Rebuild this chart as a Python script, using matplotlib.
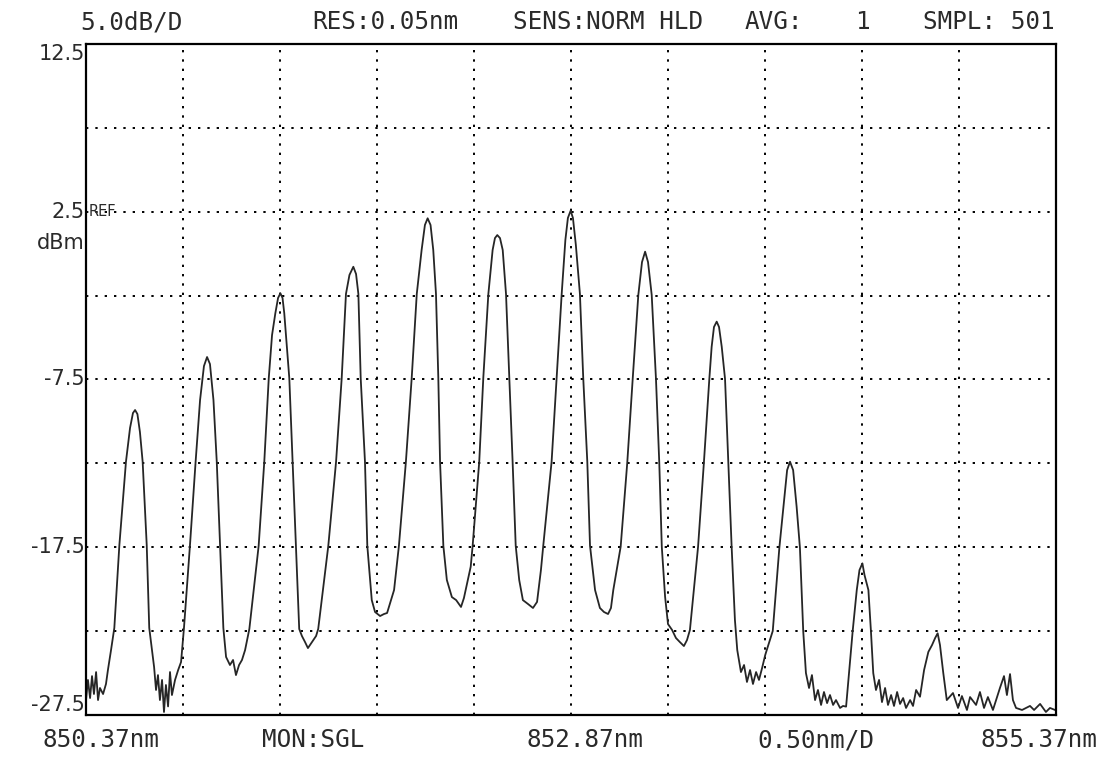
import numpy as np
import matplotlib
matplotlib.use("Agg")
import matplotlib.pyplot as plt

# OSA trace: wavelength (nm) and level (dBm)
wavelength = [
    850.370, 850.380, 850.391, 850.401, 850.411, 850.422, 850.432, 850.442, 850.458, 850.473,
    850.483, 850.499, 850.516, 850.542, 850.576, 850.597, 850.612, 850.623, 850.635, 850.648,
    850.662, 850.683, 850.696, 850.721, 850.731, 850.741, 850.751, 850.762, 850.772, 850.782,
    850.793, 850.803, 850.813, 850.829, 850.845, 850.860, 850.875, 850.906, 850.935, 850.958,
    850.978, 850.994, 851.009, 851.027, 851.044, 851.061, 851.078, 851.092, 851.112, 851.128,
    851.143, 851.159, 851.174, 851.190, 851.212, 851.260, 851.289, 851.312, 851.329, 851.346,
    851.360, 851.372, 851.383, 851.392, 851.418, 851.435, 851.452, 851.469, 851.483, 851.499,
    851.514, 851.535, 851.556, 851.567, 851.619, 851.659, 851.688, 851.710, 851.728, 851.748,
    851.762, 851.774, 851.786, 851.808, 851.820, 851.843, 851.860, 851.886, 851.906, 851.922,
    851.958, 851.983, 852.019, 852.049, 852.075, 852.100, 852.117, 852.131, 852.146, 852.160,
    852.174, 852.186, 852.195, 852.212, 852.230, 852.256, 852.278, 852.303, 852.318, 852.353,
    852.363, 852.397, 852.418, 852.444, 852.466, 852.478, 852.490, 852.504, 852.518, 852.535,
    852.552, 852.569, 852.585, 852.603, 852.622, 852.648, 852.674, 852.695, 852.715, 852.727,
    852.770, 852.796, 852.822, 852.841, 852.854, 852.868, 852.880, 852.895, 852.916, 852.933,
    852.954, 852.968, 852.994, 853.019, 853.040, 853.061, 853.076, 853.088, 853.126, 853.160,
    853.188, 853.217, 853.236, 853.252, 853.267, 853.286, 853.308, 853.325, 853.338, 853.355,
    853.370, 853.391, 853.411, 853.431, 853.452, 853.468, 853.483, 853.525, 853.555, 853.583,
    853.595, 853.607, 853.621, 853.633, 853.647, 853.664, 853.681, 853.698, 853.715, 853.727,
    853.746, 853.762, 853.777, 853.793, 853.808, 853.824, 853.839, 853.855, 853.871, 853.879,
    853.910, 853.944, 853.965, 853.984, 853.999, 854.015, 854.033, 854.050, 854.067, 854.081,
    854.097, 854.112, 854.128, 854.143, 854.159, 854.174, 854.190, 854.205, 854.221, 854.236,
    854.257, 854.272, 854.288, 854.322, 854.343, 854.357, 854.372, 854.383, 854.403, 854.416,
    854.428, 854.442, 854.458, 854.473, 854.489, 854.504, 854.520, 854.535, 854.551, 854.566,
    854.582, 854.597, 854.618, 854.633, 854.649, 854.669, 854.690, 854.712, 854.731, 854.747,
    854.760, 854.772, 854.789, 854.807, 854.839, 854.865, 854.885, 854.911, 854.927, 854.958,
    854.978, 854.999, 855.019, 855.045, 855.061, 855.081, 855.102, 855.117, 855.133, 855.148,
    855.164, 855.195, 855.236, 855.257, 855.288, 855.318, 855.339, 855.365,
]
level = [
    -26.61, -25.41, -26.49, -25.18, -26.25, -24.94, -26.61, -25.89, -26.25, -25.65,
    -24.82, -23.63, -22.31, -17.37, -12.40, -10.39, -9.50, -9.32, -9.56, -10.63,
    -12.40, -17.37, -22.31, -24.64, -26.01, -25.12, -26.61, -25.41, -27.32, -25.71,
    -26.99, -24.94, -26.31, -25.41, -24.82, -24.34, -22.31, -17.37, -12.40, -8.72,
    -6.70, -6.16, -6.58, -8.72, -12.40, -17.37, -22.31, -24.04, -24.52, -24.22,
    -25.12, -24.52, -24.22, -23.63, -22.37, -17.41, -12.40, -7.43, -4.85, -3.55,
    -2.64, -2.36, -2.64, -3.55, -7.43, -12.40, -17.41, -22.37, -22.79, -23.15,
    -23.51, -23.15, -22.79, -22.37, -17.41, -12.40, -7.43, -2.40, -1.27, -0.78,
    -1.21, -2.40, -7.43, -12.40, -17.41, -20.65, -21.36, -21.60, -21.48, -21.42,
    -20.05, -17.41, -12.40, -7.39, -2.40, 0.22, 1.71, 2.11, 1.71, 0.22,
    -2.40, -7.39, -12.40, -17.41, -19.45, -20.47, -20.65, -21.06, -20.53, -18.66,
    -17.41, -12.40, -7.39, -2.40, 0.22, 0.93, 1.11, 0.93, 0.22, -2.40,
    -7.39, -12.40, -17.41, -19.45, -20.65, -20.88, -21.12, -20.76, -18.86, -17.41,
    -12.40, -7.39, -2.40, 0.82, 2.13, 2.56, 2.13, 0.52, -2.40, -7.39,
    -12.40, -17.41, -20.05, -21.12, -21.36, -21.48, -21.12, -20.05, -17.47, -12.46,
    -7.47, -2.46, -0.50, 0.12, -0.50, -2.46, -7.47, -12.46, -17.47, -20.45,
    -22.08, -22.43, -22.91, -23.15, -23.39, -23.03, -22.43, -17.47, -12.46, -7.47,
    -5.55, -4.37, -4.05, -4.37, -5.55, -7.47, -12.46, -17.47, -21.84, -23.63,
    -24.94, -24.52, -25.53, -24.82, -25.65, -24.94, -25.41, -24.70, -23.93, -23.63,
    -22.49, -17.53, -15.08, -12.90, -12.40, -12.90, -15.08, -17.53, -22.49, -25.00,
    -25.89, -25.12, -26.61, -26.01, -26.90, -26.13, -26.79, -26.31, -26.90, -26.61,
    -27.08, -26.96, -27.00, -22.49, -20.05, -18.86, -18.46, -19.16, -20.05, -22.49,
    -25.00, -26.01, -25.41, -26.73, -25.89, -26.90, -26.31, -26.96, -26.13, -26.84,
    -26.49, -27.08, -26.61, -26.96, -26.01, -26.41, -24.82, -23.74, -23.33, -22.91,
    -22.63, -23.33, -25.00, -26.61, -26.19, -27.08, -26.37, -27.20, -26.43, -26.90,
    -26.13, -27.08, -26.43, -27.20, -26.61, -25.89, -25.18, -26.31, -25.06, -26.61,
    -27.08, -27.20, -26.96, -27.20, -26.84, -27.32, -27.08, -27.20,
]

x_start, x_stop, x_div = 850.37, 855.37, 0.50
y_top, y_bottom, y_div = 12.5, -27.5, 5.0
y_labels = [12.5, 2.5, -7.5, -17.5, -27.5]

W, H = 1119, 757
fig = plt.figure(figsize=(W / 100, H / 100), dpi=100)
fig.patch.set_facecolor("white")

ax = fig.add_axes([86 / W, 1 - 715 / H, 970 / W, 671 / H])
ax.plot(wavelength, level, color="#262626", lw=1.3)
ax.set_xlim(x_start, x_stop)
ax.set_ylim(y_bottom, y_top)

ax.set_xticks([x_start + k * x_div for k in range(11)])
ax.set_yticks([y_bottom + k * y_div for k in range(9)])
ax.tick_params(length=0, labelbottom=False, labelleft=False)
ax.grid(True, color="black", lw=1.4, linestyle=(0, (1.2, 3.6)))
for s in ax.spines.values():
    s.set_linewidth(1.6)
    s.set_color("black")

mono = dict(family="DejaVu Sans Mono", fontsize=17.5, color="#2a2a2a")

def ftext(x, y, s, ha="left", va="center", **kw):
    fig.text(x / W, 1 - y / H, s, ha=ha, va=va, **kw)

# header line
ftext(80, 22, "5.0dB/D", **mono)
ftext(312, 22, "RES:0.05nm", **mono)
ftext(513, 22, "SENS:NORM HLD", **mono)
ftext(745, 22, "AVG:", **mono)
ftext(862, 22, "1", ha="center", **mono)
ftext(1055, 22, "SMPL: 501", ha="right", **mono)

# footer line
ftext(42, 740, "850.37nm", **mono)
ftext(262, 740, "MON:SGL", **mono)
ftext(527, 740, "852.87nm", **mono)
ftext(757, 740, "0.50nm/D", **mono)
ftext(1097, 740, "855.37nm", ha="right", **mono)

# level scale
lab = dict(family="DejaVu Sans", fontsize=15, color="#2a2a2a")
ytr = ax.get_yaxis_transform()
for v in y_labels:
    va = "top" if v == y_top else ("bottom" if v == y_bottom else "center")
    ax.text(-0.001, v, f"{v:g}", transform=ytr, ha="right", va=va, **lab)
ax.text(-0.001, 2.5 - 1.85, "dBm", transform=ytr, ha="right", va="center", **lab)
ax.text(0.003, 2.5, "REF", transform=ytr, ha="left", va="center",
        family="DejaVu Sans", fontsize=10.5, color="#2a2a2a")

fig.savefig("out.png", dpi=100, facecolor="white")
